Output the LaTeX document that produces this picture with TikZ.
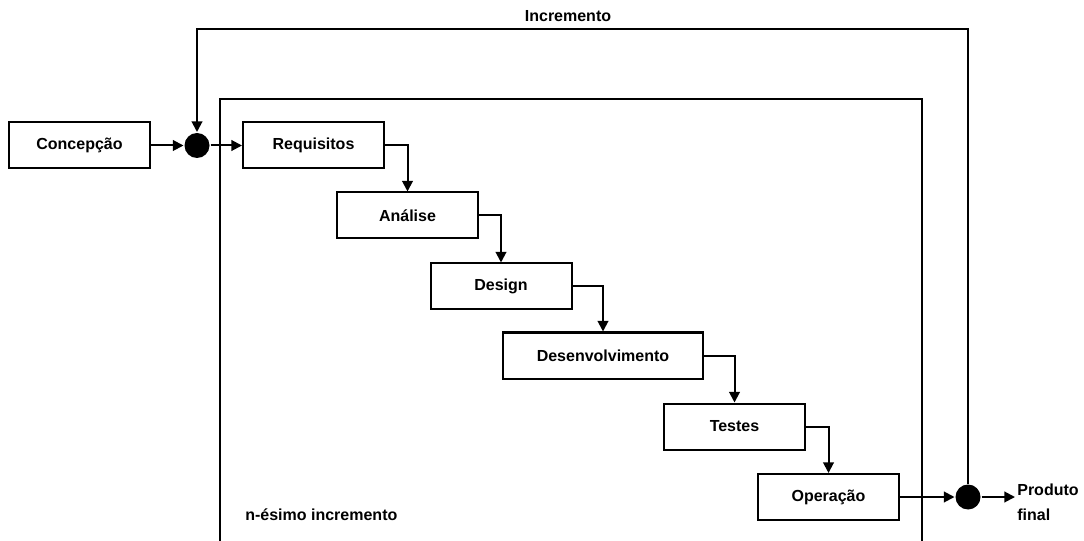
\documentclass[tikz,border=0pt]{standalone}
\usepackage{fontspec}
\setmainfont{Liberation Sans}
\usetikzlibrary{arrows.meta}
\begin{document}
\begin{tikzpicture}[x=0.75pt,y=-0.75pt,
  line width=1.5pt,
  every node/.style={font=\bfseries\fontsize{12}{18.5}\selectfont},
  phase/.style={draw, rectangle, minimum width=105.75pt, minimum height=34.5pt, inner sep=2pt},
  junction/.style={circle, fill=black, minimum size=18.75pt, inner sep=0pt},
  flow/.style={-{Triangle[length=8pt,width=8pt]}},
  plain/.style={inner sep=1pt}]
\useasboundingbox (0,0) rectangle (1084,541);

% n-th increment frame (open at the bottom)
\coordinate (fbl) at (220,545);
\coordinate (ftl) at (220,99);
\coordinate (ftr) at (922,99);
\coordinate (fbr) at (922,545);
\draw (fbl) -- (ftl) -- (ftr) -- (fbr);

% phases
\node[phase] (con) at (79.5,145.5) {Concepção};
\node[phase] (req) at (313.5,145.5) {Requisitos};
\node[phase] (ana) at (407.5,215.5) {Análise};
\node[phase] (des) at (501,286.5) {Design};
\node[phase, minimum width=150pt] (dev) at (603,355.5) {Desenvolvimento};
\node[phase] (tst) at (734.5,426.5) {Testes};
\node[phase] (ope) at (828.5,497) {Operação};

% junctions
\node[junction] (j1) at (197,145.5) {};
\node[junction] (j2) at (968,497) {};

% labels
\node[plain] (inc) at (568,16) {Incremento};
\node[plain, anchor=west] (nth) at (243,515) {n-ésimo incremento};
\node[plain, anchor=west, align=left] (prod) at (1015,502) {Produto\\final};

% main flow
\draw[flow] (con.east) -- (j1.west);
\draw[flow] (j1.east) -- (req.west);
\draw[flow] (req.east) -| (ana.north);
\draw[flow] (ana.east) -| (des.north);
\draw[flow] (des.east) -| (dev.north);
\draw[flow] (dev.east) -| (tst.north);
\draw[flow] (tst.east) -| (ope.north);
\draw[flow] (ope.east) -- (j2.west);
\draw[flow] (j2.east) -- (j2.east -| prod.west);

% increment feedback loop
\coordinate (loopl) at (197,29);
\draw[flow] (j2.north) |- (loopl) -- (j1.north);
\end{tikzpicture}
\end{document}
